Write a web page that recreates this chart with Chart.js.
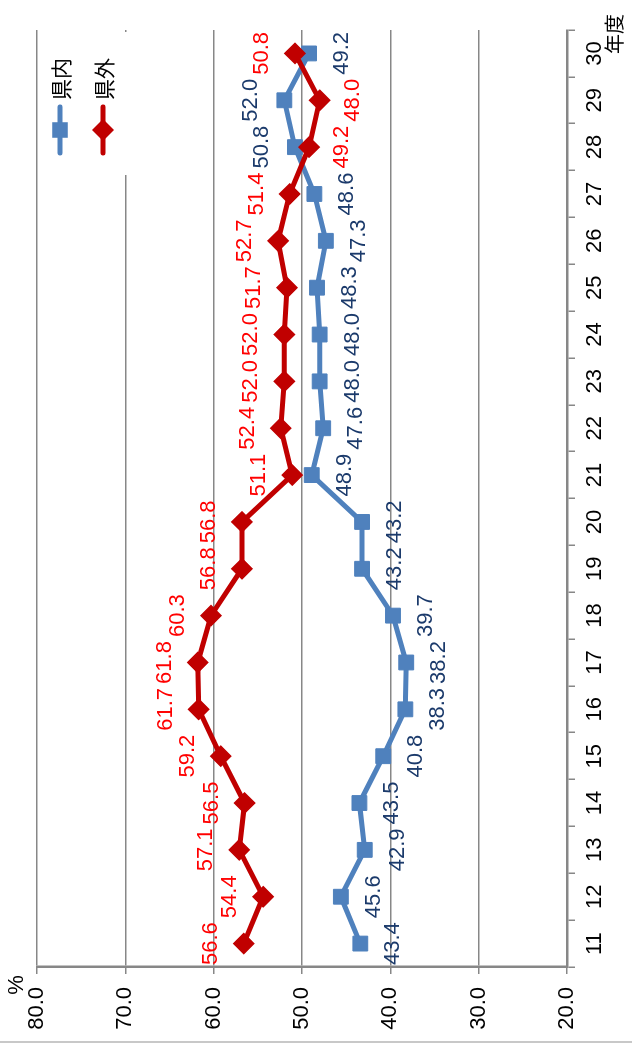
<!DOCTYPE html>
<html>
<head>
<meta charset="utf-8">
<script src="https://cdn.jsdelivr.net/npm/chart.js@4.4.0/dist/chart.umd.min.js"></script>
<style>
html, body { margin: 0; padding: 0; background: #fff; overflow: hidden; width: 632px; height: 1044px; }
/* el gráfico se dibuja horizontal y se gira 90° a la izquierda */
#lienzo { position: absolute; left: 0; top: 0; width: 1044px; height: 632px; transform-origin: 0 0; transform: rotate(-90deg) translateX(-1044px); }
</style>
</head>
<body>
<div id="lienzo"><canvas id="grafico" width="1044" height="632"></canvas></div>
<script>
// Datos
const anios = ['11', '12', '13', '14', '15', '16', '17', '18', '19', '20',
               '21', '22', '23', '24', '25', '26', '27', '28', '29', '30'];
const kennai = [43.4, 45.6, 42.9, 43.5, 40.8, 38.3, 38.2, 39.7, 43.2, 43.2,
                48.9, 47.6, 48.0, 48.0, 48.3, 47.3, 48.6, 50.8, 52.0, 49.2];
const kengai = [56.6, 54.4, 57.1, 56.5, 59.2, 61.7, 61.8, 60.3, 56.8, 56.8,
                51.1, 52.4, 52.0, 52.0, 51.7, 52.7, 51.4, 49.2, 48.0, 50.8];
const nombresSeries = ['県内', '県外'];
// años donde la etiqueta va del otro lado
const aniosInvertidos = ['28', '29'];

const AZUL = '#4F81BD';
const ROJO = '#C00000';
const GRIS = '#878787';
const FUENTE = 'Liberation Sans';

// Plugin para etiquetas de datos, leyenda y textos sueltos
const extrasPlugin = {
    id: 'extras',
    afterDatasetsDraw(chart) {
        const ctx = chart.ctx;
        ctx.save();
        ctx.font = `22px "${FUENTE}"`;
        ctx.textAlign = 'center';
        ctx.textBaseline = 'middle';
        chart.data.datasets.forEach((ds, i) => {
            const meta = chart.getDatasetMeta(i);
            meta.data.forEach((pt, j) => {
                let arriba = ds.etiquetaArriba;
                if (aniosInvertidos.includes(anios[j])) arriba = !arriba;
                ctx.fillStyle = ds.colorEtiqueta;
                ctx.fillText(ds.data[j].toFixed(1), pt.x, pt.y + (arriba ? -33 : 33));
            });
        });
        ctx.restore();
    },
    afterDraw(chart) {
        const ctx = chart.ctx;
        ctx.save();
        // caja blanca de la leyenda
        ctx.fillStyle = '#fff';
        ctx.fillRect(869, 39, 143, 90);
        const items = [
            { texto: nombresSeries[0], color: AZUL, estilo: 'rect', y: 60 },
            { texto: nombresSeries[1], color: ROJO, estilo: 'rectRot', y: 103 }
        ];
        items.forEach(it => {
            ctx.strokeStyle = it.color;
            ctx.lineWidth = 5;
            ctx.lineCap = 'round';
            ctx.beginPath();
            ctx.moveTo(891, it.y);
            ctx.lineTo(937, it.y);
            ctx.stroke();
            ctx.fillStyle = it.color;
            Chart.helpers.drawPoint(ctx, { pointStyle: it.estilo, radius: 11, borderWidth: 0 }, 914, it.y);
            ctx.fillStyle = '#000';
            ctx.font = '21px "Noto Sans CJK JP"';
            ctx.textAlign = 'left';
            ctx.textBaseline = 'middle';
            ctx.fillText(it.texto, 944, it.y + 1);
        });
        // títulos de ejes
        ctx.fillStyle = '#000';
        ctx.font = `22px "${FUENTE}"`;
        ctx.textAlign = 'center';
        ctx.fillText('%', 59, 17);
        ctx.font = '20px "Noto Sans CJK JP"';
        ctx.textAlign = 'left';
        ctx.fillText('年度', 990, 614);
        // borde exterior
        ctx.strokeStyle = '#c8c8c8';
        ctx.lineWidth = 2;
        ctx.beginPath();
        ctx.moveTo(2, 0);
        ctx.lineTo(2, 632);
        ctx.stroke();
        ctx.restore();
    }
};

const ctx = document.getElementById('grafico').getContext('2d');
new Chart(ctx, {
    type: 'line',
    data: {
        labels: anios,
        datasets: [{
            label: nombresSeries[0],
            data: kennai,
            borderColor: AZUL,
            backgroundColor: AZUL,
            borderWidth: 5,
            pointStyle: 'rect',
            pointRadius: 10.5,
            pointBorderWidth: 1,
            pointBackgroundColor: AZUL,
            pointBorderColor: AZUL,
            order: 1,
            etiquetaArriba: false,
            colorEtiqueta: '#1B3A6B'
        }, {
            label: nombresSeries[1],
            data: kengai,
            borderColor: ROJO,
            backgroundColor: ROJO,
            borderWidth: 5,
            pointStyle: 'rectRot',
            pointRadius: 10,
            pointBorderWidth: 1.5,
            pointBackgroundColor: ROJO,
            pointBorderColor: ROJO,
            order: 0,
            etiquetaArriba: true,
            colorEtiqueta: '#FF0000'
        }]
    },
    options: {
        responsive: false,
        animation: false,
        layout: { padding: { top: 37, right: 30, left: 0, bottom: 0 } },
        plugins: {
            legend: { display: false },
            tooltip: { enabled: false }
        },
        scales: {
            x: {
                offset: true,
                grid: { offset: true, drawOnChartArea: false, drawTicks: true, tickLength: 8, color: GRIS, lineWidth: 1.5 },
                border: { color: GRIS, width: 2.5 },
                ticks: { color: '#000', font: { family: FUENTE, size: 22 }, padding: 7, maxRotation: 0, autoSkip: false },
                afterFit(scale) { scale.height = 65; }
            },
            y: {
                min: 20,
                max: 80,
                grid: { color: GRIS, lineWidth: 1.5, tickLength: 7 },
                border: { color: GRIS, width: 2.5 },
                ticks: {
                    stepSize: 10,
                    color: '#000',
                    font: { family: FUENTE, size: 22 },
                    padding: 13,
                    callback: v => v.toFixed(1)
                },
                afterFit(scale) { scale.width = 77; }
            }
        }
    },
    plugins: [extrasPlugin]
});
</script>
</body>
</html>
